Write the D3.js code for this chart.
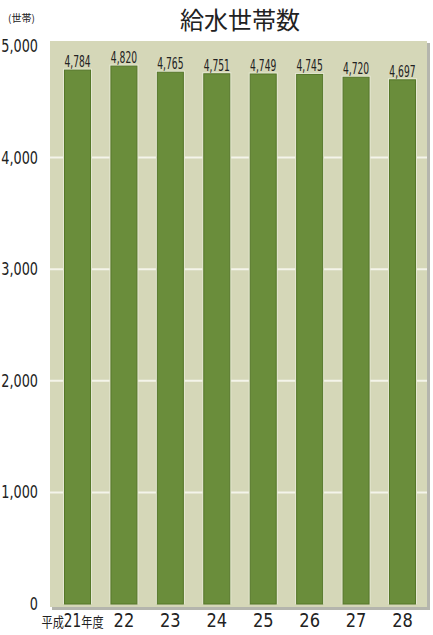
<!DOCTYPE html>
<html><head><meta charset="utf-8">
<script src="https://cdn.jsdelivr.net/npm/d3@7"></script>
<style>
body{margin:0;background:#fff;}
svg{display:block;}
text{font-family:"Liberation Sans Narrow","DejaVu Sans Condensed","Liberation Sans",sans-serif;fill:#222;}
.cjk{font-family:"Noto Sans CJK JP","Noto Sans CJK SC",sans-serif;}
</style></head>
<body>
<svg id="c" width="433" height="635"></svg>
<script>
const categories = ["21","22","23","24","25","26","27","28"];
const values = [4784,4820,4765,4751,4749,4745,4720,4697];
const yTicks = [0,1000,2000,3000,4000,5000];
const title = "給水世帯数";
const unit = "(世帯)";

const svg = d3.select("#c");
const plot = {x0:50, x1:427, y0:41, y1:607};
const x = d3.scaleBand().domain(categories).range([54.3,425.7]).paddingInner(0.44).paddingOuter(0.22);
const y = d3.scaleLinear().domain([0,5000]).range([604,46]);

// shadow + background
svg.append("rect").attr("x",plot.x0+2).attr("y",plot.y0+2).attr("width",plot.x1-plot.x0+1).attr("height",plot.y1-plot.y0+1).attr("fill","#b4b5ad");
svg.append("rect").attr("x",plot.x0).attr("y",plot.y0).attr("width",plot.x1-plot.x0).attr("height",plot.y1-plot.y0).attr("fill","#d5d7b8");

// gridlines
svg.append("g").selectAll("line").data(yTicks.filter(d=>d>0&&d<5000)).join("line")
  .attr("x1",plot.x0).attr("x2",plot.x1).attr("y1",d=>y(d)).attr("y2",d=>y(d))
  .attr("stroke","#f4f4ea").attr("stroke-width",2);

// bars with light halo
const bars = svg.append("g");
bars.selectAll("rect.h").data(values).join("rect").attr("class","h")
  .attr("x",(d,i)=>x(categories[i])-1.5).attr("width",x.bandwidth()+3)
  .attr("y",d=>y(d)-1.5).attr("height",d=>y(0)-y(d)+1.5)
  .attr("fill","#e6e8d4");
bars.selectAll("rect.b").data(values).join("rect").attr("class","b")
  .attr("x",(d,i)=>x(categories[i])).attr("width",x.bandwidth())
  .attr("y",d=>y(d)).attr("height",d=>y(0)-y(d))
  .attr("fill","#6a8d3b").attr("stroke","#557629").attr("stroke-width",1);

// value labels
const fmt = d3.format(",");
svg.append("g").selectAll("text").data(values).join("text")
  .attr("transform",(d,i)=>`translate(${x(categories[i])+x.bandwidth()/2},${y(d)-3}) scale(0.68,1)`)
  .attr("text-anchor","middle").attr("font-size",15).text(d=>fmt(d));

// y axis labels
svg.append("g").selectAll("text").data(yTicks).join("text")
  .attr("transform",d=>`translate(38,${y(d)+6}) scale(0.84,1)`)
  .attr("text-anchor","end").attr("font-size",17).text(d=>fmt(d));

// x labels
const xl = svg.append("g");
categories.forEach((c,i)=>{
  const cx = x(c)+x.bandwidth()/2;
  if(i===0){
    const t = xl.append("text").attr("transform",`translate(${cx-5},627) scale(0.8,1)`).attr("text-anchor","middle");
    t.append("tspan").attr("class","cjk").attr("font-size",14).text("平成");
    t.append("tspan").attr("font-size",19).text(c);
    t.append("tspan").attr("class","cjk").attr("font-size",14).text("年度");
  } else {
    xl.append("text").attr("transform",`translate(${cx},627) scale(0.95,1)`).attr("text-anchor","middle").attr("font-size",19).text(c);
  }
});

// title and unit
svg.append("text").attr("class","cjk").attr("x",240).attr("y",29).attr("text-anchor","middle").attr("font-size",24).attr("fill","#222").text(title);
svg.append("text").attr("class","cjk").attr("x",8).attr("y",22).attr("font-size",10).text(unit);
</script>
</body></html>
